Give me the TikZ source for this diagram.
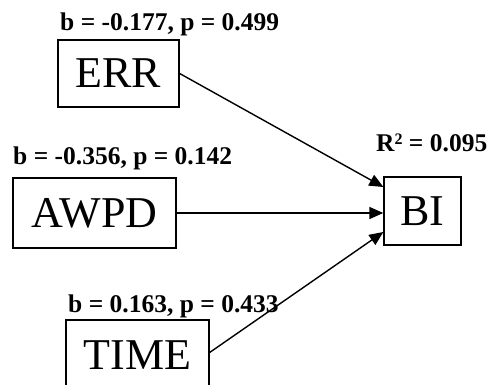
\documentclass[tikz,border=0pt]{standalone}
\usepackage{fontspec}
\setmainfont{Liberation Serif}
\usetikzlibrary{arrows.meta,calc}
\begin{document}
\begin{tikzpicture}[x=1pt,y=1pt,
  varbox/.style={draw,line width=1.3pt,inner sep=0pt,font=\fontsize{44}{48}\selectfont},
  coef/.style={anchor=base west,inner sep=0pt,font=\fontsize{25.5}{28}\selectfont\bfseries},
  path/.style={line width=1.4pt,-{Triangle[length=14pt,width=12pt]}}]
\useasboundingbox (0,0) rectangle (488,385);
\clip (0,0) rectangle (488,385);
\node[varbox,minimum width=121pt,minimum height=67pt] (err) at (118.5,311.5) {ERR};
\node[varbox,minimum width=163pt,minimum height=70pt] (awpd) at (94.5,172) {AWPD};
\node[varbox,minimum width=143pt,minimum height=71pt] (time) at (137.5,29.5) {TIME};
\node[varbox,minimum width=77pt,minimum height=68pt] (bi) at (422.5,174) {BI};
\node[coef] (lerr) at (60,354) {b = -0.177, p = 0.499};
\node[coef] (lawpd) at (13,220) {b = -0.356, p = 0.142};
\node[coef] (ltime) at (68,72) {b = 0.163, p = 0.433};
\node[coef] (lbi) at (376,233) {R{\fontsize{16}{18}\selectfont\raisebox{0.45em}{2}} = 0.095};
\coordinate (in1) at ($(bi.west)+(0,24)$);
\coordinate (in2) at (bi.west |- awpd.east);
\coordinate (in3) at ($(bi.west)+(0,-21)$);
\draw[path] (err.east) -- (in1);
\draw[path] (awpd.east) -- (in2);
\draw[path] ($(time.east)+(0,3)$) -- (in3);
\end{tikzpicture}
\end{document}
